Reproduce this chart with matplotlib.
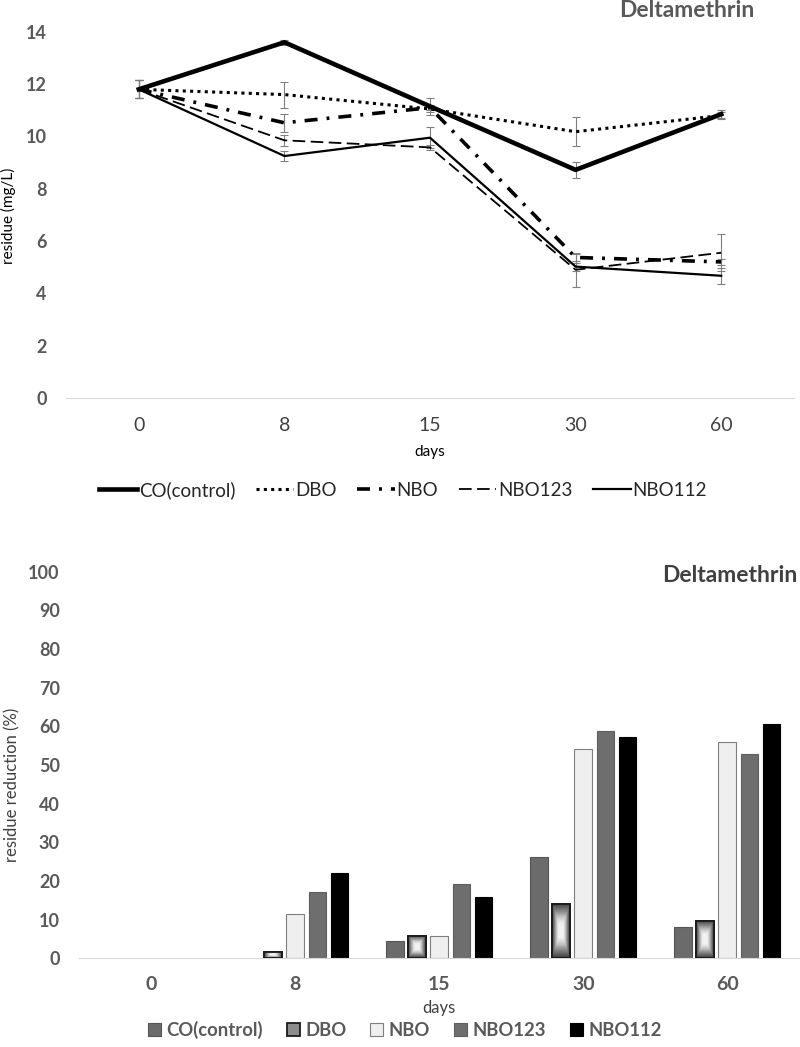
import numpy as np
import matplotlib
matplotlib.use("Agg")
import matplotlib.pyplot as plt
from matplotlib.patches import Patch

plt.rcParams['font.family'] = ['Lato', 'DejaVu Sans']

# data
days = ['0', '8', '15', '30', '60']
series = ['CO(control)', 'DBO', 'NBO', 'NBO123', 'NBO112']

# residue (mg/L)
co_res = [11.8, 13.6, 11.15, 8.72, 10.85]
dbo_res = [11.8, 11.6, 11.05, 10.18, 10.8]
nbo_res = [11.8, 10.52, 11.1, 5.37, 5.2]
nbo123_res = [11.8, 9.85, 9.58, 4.9, 5.55]
nbo112_res = [11.8, 9.25, 9.95, 5.02, 4.67]

co_err = [0.35, 0.1, 0.33, 0.3, 0.15]
dbo_err = [0.35, 0.5, 0.1, 0.55, 0.12]
nbo_err = [0.35, 0.35, 0.1, 0.15, 0.1]
nbo123_err = [0.35, 0.2, 0.1, 0.65, 0.7]
nbo112_err = [0.35, 0.2, 0.4, 0.15, 0.3]

# residue reduction (%)
co_red = [0, 0, 4.4, 26.3, 8.2]
dbo_red = [0, 1.7, 5.9, 14.0, 9.7]
nbo_red = [0, 11.4, 5.9, 54.1, 55.9]
nbo123_red = [0, 17.1, 19.1, 58.8, 52.8]
nbo112_red = [0, 22.0, 15.8, 57.3, 60.5]

tick_col = '#595959'
text_col = '#404040'

fig = plt.figure(figsize=(8, 10.47), dpi=100)

# ---- top: line chart ----
ax1 = fig.add_axes([0.0825, 0.620, 0.91, 0.3496])
x = np.arange(len(days))

line_styles = [
    dict(color='black', lw=3.3, ls='-'),
    dict(color='black', lw=2.2, ls=(0, (1, 1.4))),
    dict(color='black', lw=2.6, ls=(0, (3.6, 2.5, 0.8, 2.5))),
    dict(color='black', lw=1.3, ls=(0, (7, 3))),
    dict(color='black', lw=1.6, ls='-'),
]
res_vals = [co_res, dbo_res, nbo_res, nbo123_res, nbo112_res]
res_errs = [co_err, dbo_err, nbo_err, nbo123_err, nbo112_err]

handles = []
for name, vals, errs, st in zip(series, res_vals, res_errs, line_styles):
    ax1.errorbar(x, vals, yerr=errs, fmt='none', ecolor='#7f7f7f',
                 elinewidth=0.8, capsize=3, capthick=0.8, zorder=2)
    h, = ax1.plot(x, vals, label=name, zorder=3, **st)
    handles.append(h)

ax1.set_xlim(-0.5, 4.5)
ax1.set_ylim(0, 14)
ax1.set_yticks(range(0, 15, 2))
ax1.set_xticks(x)
ax1.set_xticklabels(days)
for s in ['top', 'right', 'left']:
    ax1.spines[s].set_visible(False)
ax1.spines['bottom'].set_color('#d9d9d9')
ax1.tick_params(axis='both', length=0)
ax1.tick_params(axis='y', labelsize=13, labelcolor=tick_col, pad=14)
ax1.tick_params(axis='x', labelsize=14, labelcolor=text_col, pad=14)
for lab in ax1.get_yticklabels():
    lab.set_fontweight('bold')
ax1.set_xlabel('days', fontsize=11, color='black', labelpad=8)
ax1.set_ylabel('residue (mg/L)', fontsize=11, color='black')
ax1.yaxis.set_label_coords(-0.069, 0.497)

fig.text(0.858, 0.990, 'Deltamethrin', fontsize=16.5, fontweight='bold',
         color=tick_col, ha='center', va='center')

fig.legend(handles=handles, loc='center', bbox_to_anchor=(0.504, 0.532),
           ncol=5, frameon=False, fontsize=13.5, handlelength=2.0,
           handletextpad=0.1, columnspacing=1.1,
           labelcolor='#262626')

# ---- bottom: bar chart ----
ax2 = fig.add_axes([0.099, 0.0847, 0.9, 0.3693])
red_vals = [co_red, dbo_red, nbo_red, nbo123_red, nbo112_red]
bar_fc = ['#6b6b6b', '#8c8c8c', '#efefef', '#6e6e6e', '#000000']
bar_ec = ['#555555', '#1a1a1a', '#7f7f7f', '#5e5e5e', '#000000']
bar_lw = [0.8, 1.3, 0.8, 0.8, 0.8]
bw = 0.122
pitch = 0.154

# rectangular gradient for the DBO bars (dark frame, white centre)
gu = np.linspace(-1, 1, 60)
gx, gy = np.meshgrid(gu, gu)
gd = np.maximum(np.abs(gx), np.abs(gy))
grad = np.clip((gd - 0.25) / 0.75, 0, 1)

for i, (name, vals) in enumerate(zip(series, red_vals)):
    pos = x + (i - 2) * pitch
    bars = ax2.bar(pos, vals, width=bw, color=bar_fc[i], edgecolor=bar_ec[i],
                   linewidth=bar_lw[i], label=name, zorder=2)
    for b in bars:
        # no outline for empty bars
        if b.get_height() <= 0:
            b.set_linewidth(0)
    if name == 'DBO':
        for b in bars:
            if b.get_height() <= 0:
                continue
            x0, y0 = b.get_x(), b.get_y()
            im = ax2.imshow(grad, cmap='Greys', vmin=-0.15, vmax=1.25,
                            extent=[x0, x0 + b.get_width(), y0, y0 + b.get_height()],
                            aspect='auto', zorder=2.5, interpolation='bilinear')
            im.set_clip_path(b)
            ax2.add_patch(plt.Rectangle((x0, y0), b.get_width(), b.get_height(),
                                        fill=False, edgecolor='#1a1a1a',
                                        linewidth=1.3, zorder=2.6))

ax2.set_xlim(-0.5, 4.5)
ax2.set_ylim(0, 100)
ax2.set_yticks(range(0, 101, 10))
ax2.set_xticks(x)
ax2.set_xticklabels(days)
for s in ['top', 'right', 'left']:
    ax2.spines[s].set_visible(False)
ax2.spines['bottom'].set_color('#d9d9d9')
ax2.tick_params(axis='both', length=0)
ax2.tick_params(axis='y', labelsize=13, labelcolor=tick_col, pad=14)
ax2.tick_params(axis='x', labelsize=14, labelcolor=tick_col, pad=13)
for lab in ax2.get_yticklabels() + ax2.get_xticklabels():
    lab.set_fontweight('bold')
ax2.set_xlabel('days', fontsize=12, color=text_col, labelpad=5)
ax2.set_ylabel('residue reduction (%)', fontsize=12, color=text_col)
ax2.yaxis.set_label_coords(-0.082, 0.448)

fig.text(0.912, 0.450, 'Deltamethrin', fontsize=16.5, fontweight='bold',
         color=text_col, ha='center', va='center')

bar_handles = [Patch(facecolor=bar_fc[i], edgecolor=bar_ec[i], linewidth=bar_lw[i],
                     label=series[i]) for i in range(len(series))]
fig.legend(handles=bar_handles, loc='center', bbox_to_anchor=(0.506, 0.0163),
           ncol=5, frameon=False, handlelength=0.7,
           handleheight=0.7, handletextpad=0.3, columnspacing=1.3,
           labelcolor=tick_col, prop={'weight': 'bold', 'size': 13.3})

fig.savefig('out.png', dpi=100)
